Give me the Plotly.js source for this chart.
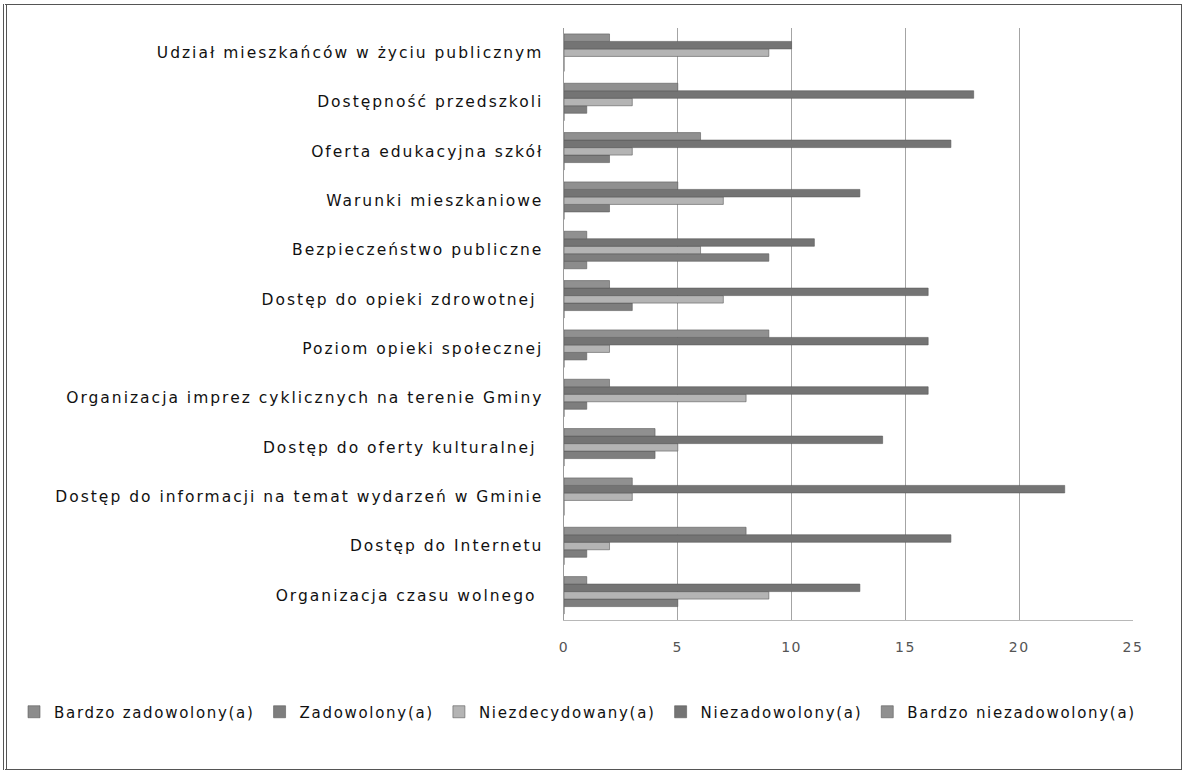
<!DOCTYPE html>
<html>
<head>
<meta charset="utf-8">
<script src="https://cdn.plot.ly/plotly-3.0.1.min.js"></script>
<style>
  html, body { margin: 0; padding: 0; background: #ffffff; }
  #chart { position: absolute; left: 0; top: 0; width: 1183px; height: 775px; }
  #frame { position: absolute; left: 3px; top: 4px; width: 1174px; height: 764px;
           border: 1px solid #555; border-left: 4px double #555; pointer-events: none; }
  .ytick text { letter-spacing: 2px; }
  .xtick text { letter-spacing: 1.5px; }
  text.legendtext { letter-spacing: 1.7px; }
</style>
</head>
<body>
<div id="chart"></div>
<div id="frame"></div>
<script>
// Categories listed bottom-to-top (as plotted)
const categories = [
  "Organizacja czasu wolnego ",
  "Dostęp do Internetu",
  "Dostęp do informacji na temat wydarzeń w Gminie",
  "Dostęp do oferty kulturalnej ",
  "Organizacja imprez cyklicznych na terenie Gminy",
  "Poziom opieki społecznej",
  "Dostęp do opieki zdrowotnej ",
  "Bezpieczeństwo publiczne",
  "Warunki mieszkaniowe",
  "Oferta edukacyjna szkół",
  "Dostępność przedszkoli",
  "Udział mieszkańców w życiu publicznym"
];
const seriesNames = [
  "Bardzo zadowolony(a)",
  "Zadowolony(a)",
  "Niezdecydowany(a)",
  "Niezadowolony(a)",
  "Bardzo niezadowolony(a)"
];
const bardzoZadowolony    = [0, 0, 0, 0, 0, 0, 0, 1, 0, 0, 0, 0];
const zadowolony          = [5, 1, 0, 4, 1, 1, 3, 9, 2, 2, 1, 0];
const niezdecydowany      = [9, 2, 3, 5, 8, 2, 7, 6, 7, 3, 3, 9];
const niezadowolony       = [13, 17, 22, 14, 16, 16, 16, 11, 13, 17, 18, 10];
const bardzoNiezadowolony = [1, 8, 3, 4, 2, 9, 2, 1, 5, 6, 5, 2];
const xTicks = [0, 5, 10, 15, 20, 25];

const seriesValues = [bardzoZadowolony, zadowolony, niezdecydowany, niezadowolony, bardzoNiezadowolony];
const colors = ["#8c8c8c", "#7e7e7e", "#b4b4b4", "#747474", "#909090"];

const traces = seriesValues.map((vals, i) => ({
  type: "bar",
  orientation: "h",
  name: seriesNames[i],
  x: vals,
  y: categories,
  marker: { color: colors[i], line: { color: "#5a5a5a", width: 0.6 } }
}));

const layout = {
  width: 1183,
  height: 775,
  margin: { l: 564, r: 50, t: 28, b: 155 },
  paper_bgcolor: "#ffffff",
  plot_bgcolor: "#ffffff",
  barmode: "group",
  bargap: 0.24,
  bargroupgap: 0,
  showlegend: true,
  font: { family: "DejaVu Sans, sans-serif", color: "#222" },
  xaxis: {
    range: [0, 25],
    tickvals: xTicks,
    ticktext: xTicks.map(String),
    showgrid: true,
    gridcolor: "#a4a4a4",
    gridwidth: 1.3,
    zeroline: false,
    showline: true,
    linecolor: "#b8b8b8",
    ticks: "",
    ticklabelstandoff: 14,
    tickfont: { family: "DejaVu Sans, sans-serif", size: 14, color: "#555" }
  },
  yaxis: {
    type: "category",
    categoryorder: "array",
    categoryarray: categories,
    showgrid: false,
    zeroline: false,
    showline: true,
    linecolor: "#9a9a9a",
    linewidth: 1.5,
    ticks: "",
    ticklabelstandoff: 16,
    tickfont: { family: "DejaVu Sans, sans-serif", size: 15.5, color: "#111" }
  },
  legend: {
    orientation: "h",
    traceorder: "normal",
    x: (14 - 564) / 569,
    xanchor: "left",
    y: -92 / 592,
    yanchor: "middle",
    font: { family: "DejaVu Sans, sans-serif", size: 15, color: "#111" },
    itemwidth: 30
  }
};

Plotly.newPlot("chart", traces, layout, { displayModeBar: false, staticPlot: true });
</script>
</body>
</html>
